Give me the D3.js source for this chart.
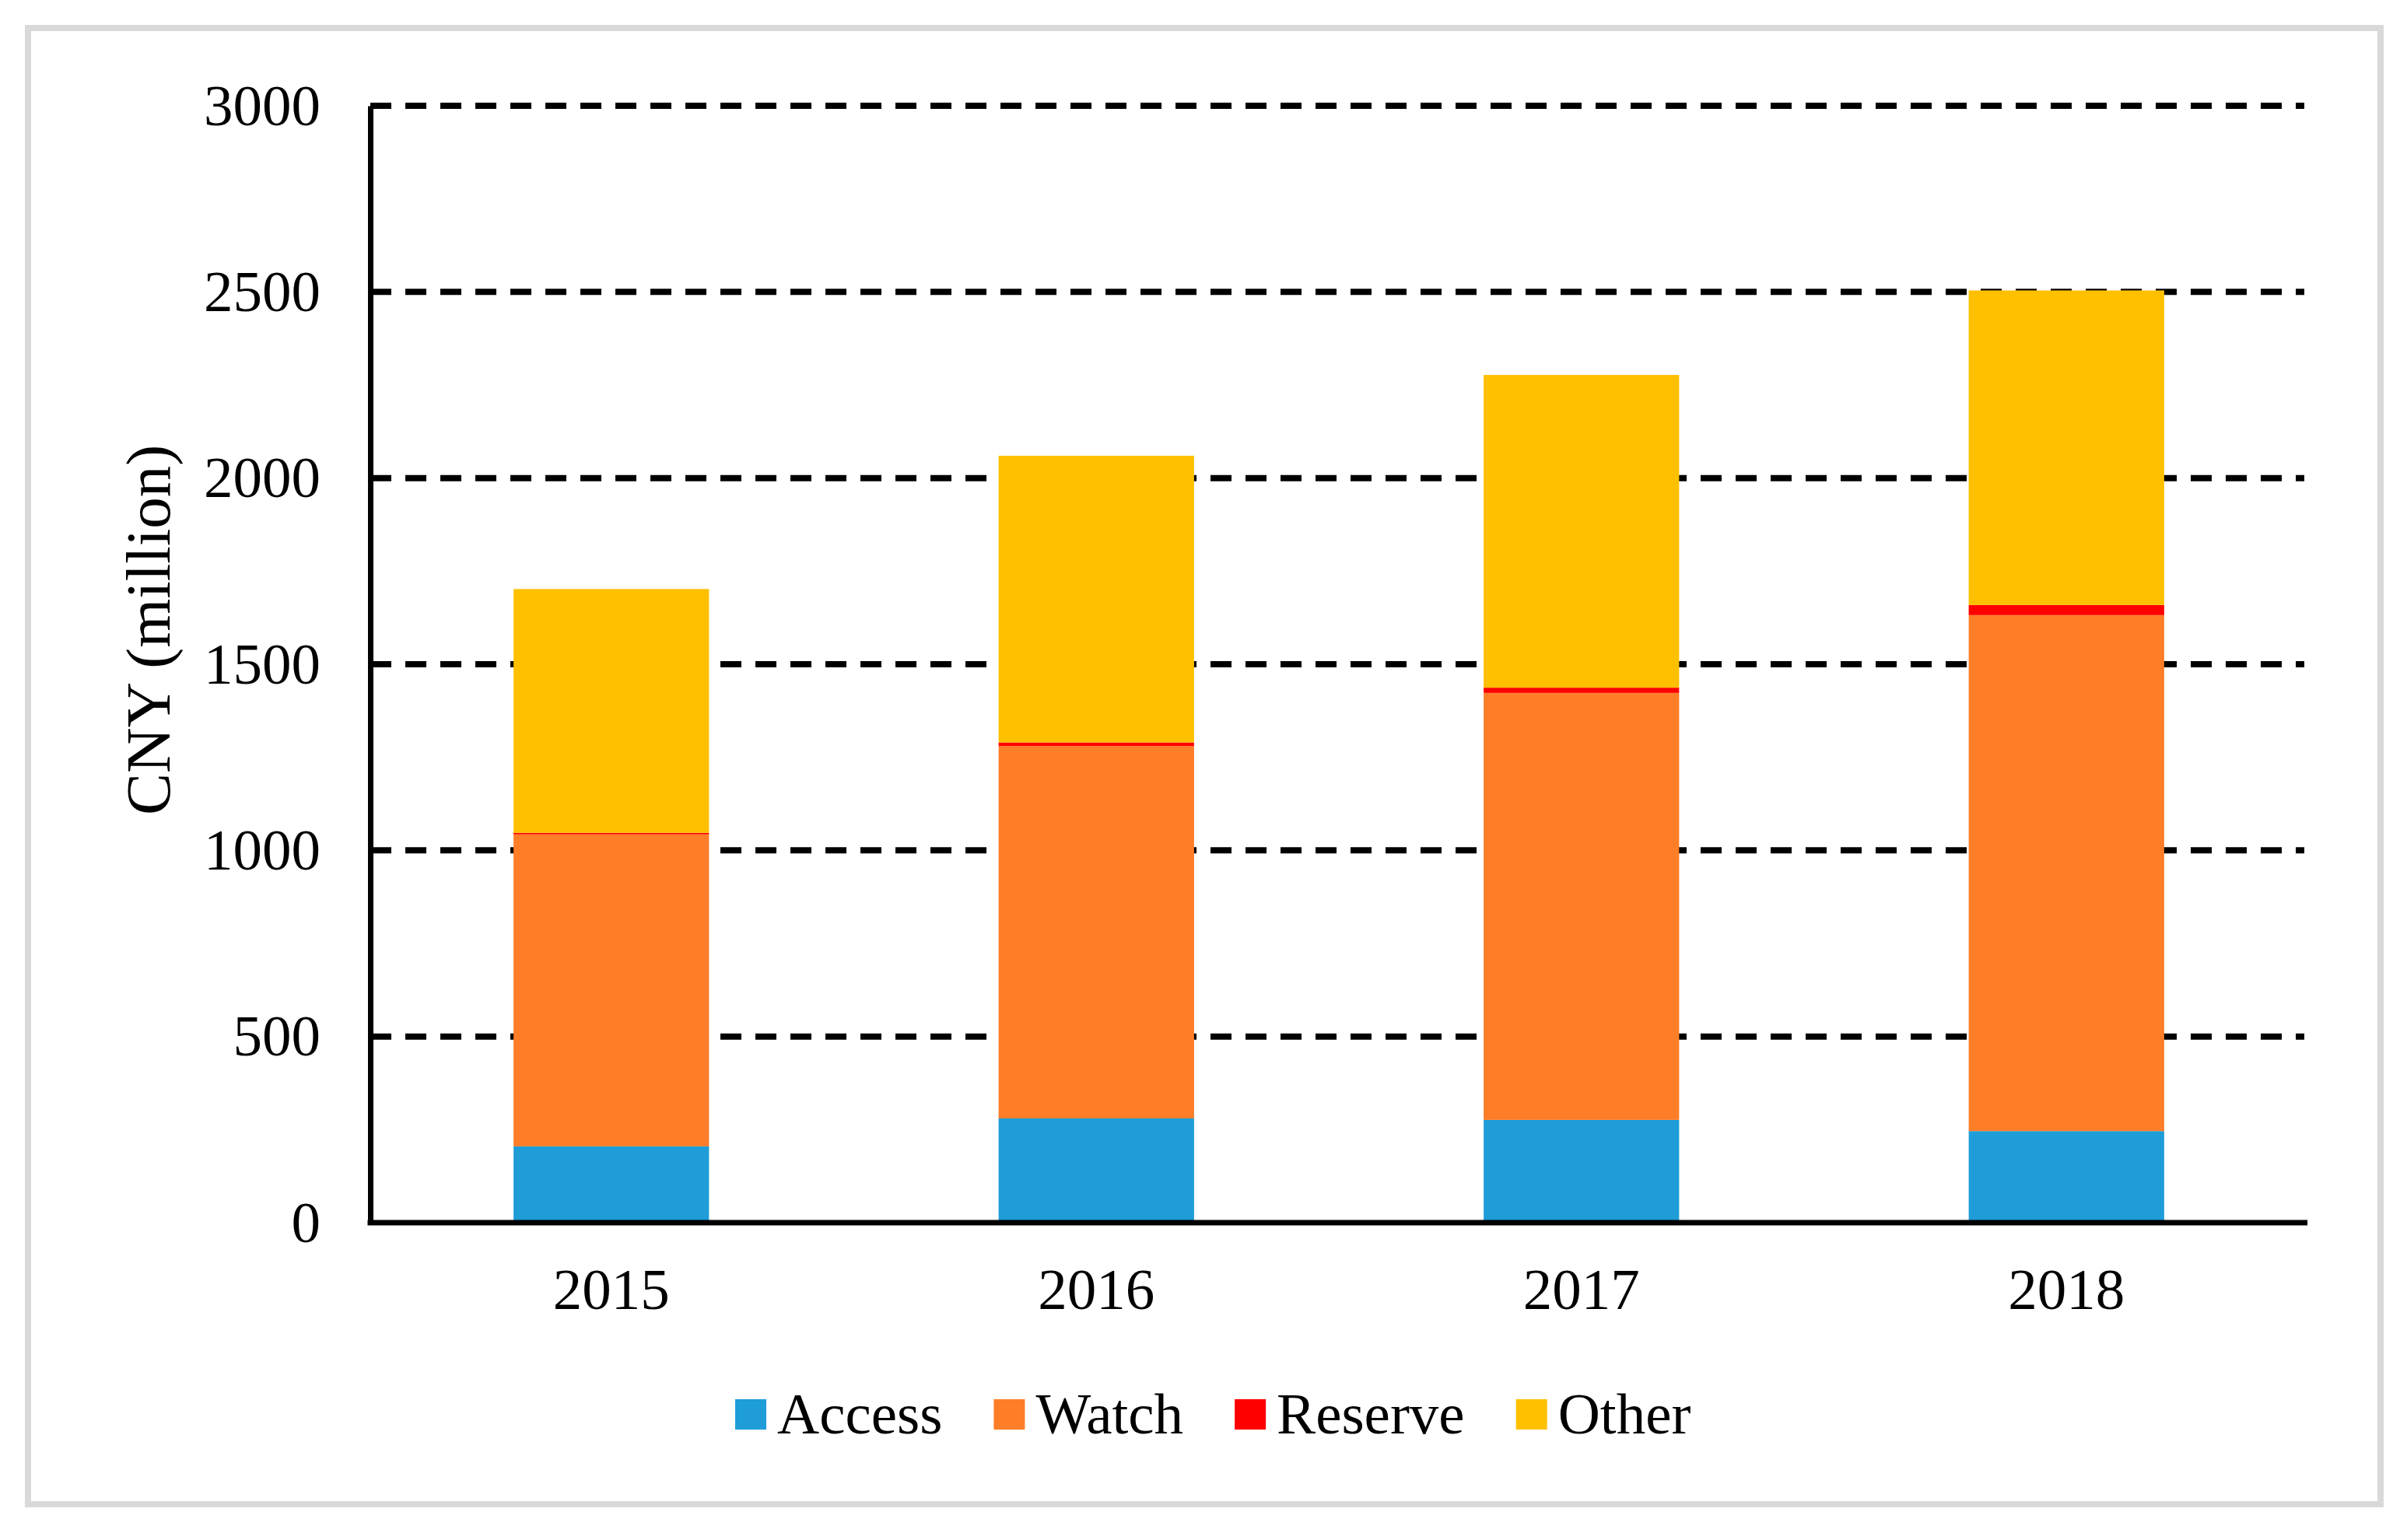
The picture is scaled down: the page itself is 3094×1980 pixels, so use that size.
<!DOCTYPE html>
<html>
<head>
<meta charset="utf-8">
<script src="https://cdn.jsdelivr.net/npm/d3@7"></script>
<style>
  html, body { margin: 0; padding: 0; background: #fff; }
  svg { display: block; }
  text { font-family: 'Liberation Serif', 'Times New Roman', serif; fill: #000; }
</style>
</head>
<body>
<svg id="chart" width="3094" height="1980"></svg>
<script>
// values (CNY million)
const years = ['2015', '2016', '2017', '2018']
const seriesNames = ['Access', 'Watch', 'Reserve', 'Other']
const access = [205, 280, 276, 246]
const watch = [838, 1000, 1147, 1386]
const reserve = [4, 10, 14, 27]
const other = [655, 770, 840, 845]
const yTicks = [0, 500, 1000, 1500, 2000, 2500, 3000]
const colors = ['#1e9dd8', '#fe7d28', '#ff0000', '#ffc000']

const rows = years.map((year, i) => ({
  year,
  Access: access[i],
  Watch: watch[i],
  Reserve: reserve[i],
  Other: other[i]
}))

const plot = { left: 474, right: 2968, top: 136, bottom: 1572 }
const axisX = 476

const svg = d3.select('#chart')

// outer frame
svg.append('rect')
  .attr('x', 36)
  .attr('y', 36)
  .attr('width', 3024)
  .attr('height', 1898)
  .attr('fill', '#fff')
  .attr('stroke', '#d9d9d9')
  .attr('stroke-width', 8)

const x =
  d3.scaleBand()
    .domain(years)
    .range([plot.left, plot.right])
    .paddingInner(0.597)
    .paddingOuter(0.2985)
const y =
  d3.scaleLinear()
    .domain([0, 3000])
    .range([plot.bottom, plot.top])
const color =
  d3.scaleOrdinal()
    .domain(seriesNames)
    .range(colors)

// dashed gridlines (not at zero, the axis covers it)
svg.append('g')
  .selectAll('line')
  .data(yTicks.filter(d => d > 0))
  .join('line')
    .attr('x1', axisX)
    .attr('x2', 2962)
    .attr('y1', d => y(d))
    .attr('y2', d => y(d))
    .attr('stroke', '#000')
    .attr('stroke-width', 8)
    .attr('stroke-dasharray', '27,18')

// stacked bars
const stacked = d3.stack().keys(seriesNames)(rows)

svg.append('g')
  .selectAll('g')
  .data(stacked)
  .join('g')
    .attr('fill', d => color(d.key))
  .selectAll('rect')
  .data(d => d)
  .join('rect')
    .attr('x', d => x(d.data.year))
    .attr('width', x.bandwidth())
    .attr('y', d => y(d[1]))
    .attr('height', d => y(d[0]) - y(d[1]))

// y axis
const yAxis =
  d3.axisLeft(y)
    .tickValues(yTicks)
    .tickSize(0)
    .tickPadding(64)
    .tickFormat(d3.format('d'))

svg.append('g')
  .attr('transform', `translate(${axisX}, 0)`)
  .call(yAxis)
  .call(g => g.select('.domain')
    .attr('stroke', '#000')
    .attr('stroke-width', 7))
  .call(g => g.selectAll('text')
    .attr('font-family', "'Liberation Serif', 'Times New Roman', serif")
    .attr('font-size', 75))

// x axis
const xAxis =
  d3.axisBottom(x)
    .tickSize(0)
    .tickPadding(58)

svg.append('g')
  .attr('transform', `translate(0, ${plot.bottom})`)
  .call(xAxis)
  .call(g => g.select('.domain').remove())
  .call(g => g.selectAll('text')
    .attr('font-family', "'Liberation Serif', 'Times New Roman', serif")
    .attr('font-size', 75))

svg.append('line')
  .attr('x1', axisX - 3.5)
  .attr('x2', 2966)
  .attr('y1', plot.bottom)
  .attr('y2', plot.bottom)
  .attr('stroke', '#000')
  .attr('stroke-width', 7)

// axis title
svg.append('text')
  .attr('transform', 'translate(218, 810) rotate(-90)')
  .attr('text-anchor', 'middle')
  .attr('font-size', 81)
  .text('CNY (million)')

// legend, laid out left to right
const legend = svg.append('g')
let cursor = 945
seriesNames.forEach(name => {
  const item = legend.append('g')
  item.append('rect')
    .attr('x', cursor)
    .attr('y', 1799)
    .attr('width', 40)
    .attr('height', 39)
    .attr('fill', color(name))
  const label =
    item.append('text')
      .attr('x', cursor + 54)
      .attr('y', 1843)
      .attr('font-size', 75)
      .text(name)
  cursor += 54 + label.node().getComputedTextLength() + 66
})
</script>
</body>
</html>
